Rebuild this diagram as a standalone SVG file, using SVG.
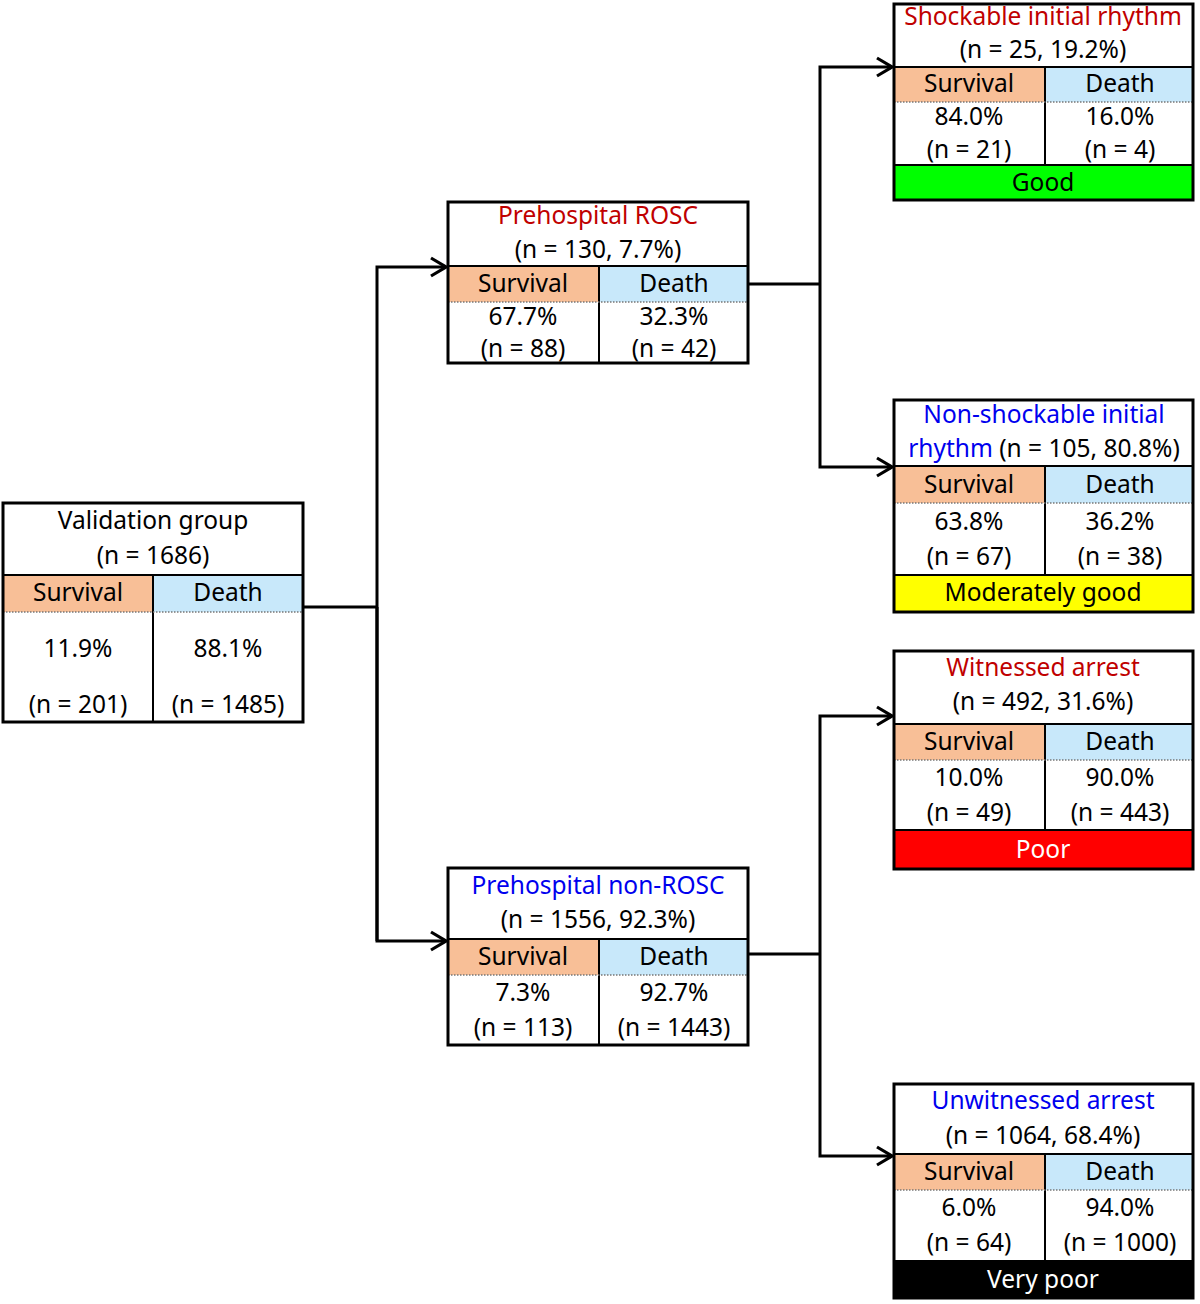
<svg xmlns="http://www.w3.org/2000/svg" width="1200" height="1304" viewBox="0 0 1200 1304">
<defs>
<style>
text{font-family:"Noto Sans","Open Sans","DejaVu Sans",sans-serif;font-size:24.5px;fill:#000;text-anchor:middle}
.red{fill:#C00000}
.blue{fill:#0000EE}
.white{fill:#fff}
.sv{fill:#F8BF97}
.dt{fill:#C8E8FA}
.frame{fill:none;stroke:#000;stroke-width:3}
.ln{stroke:#000;stroke-width:2;fill:none}
.dot{stroke:#777;stroke-width:1.5;stroke-dasharray:1.5 1.5;fill:none}
.con{stroke:#000;stroke-width:3;fill:none}
</style>
<marker id="arr" markerUnits="userSpaceOnUse" markerWidth="22" markerHeight="22" viewBox="0 0 22 22" refX="20" refY="11" orient="auto">
<path d="M5,2 L20,11 L5,20" fill="none" stroke="#000" stroke-width="3.2"/>
</marker>
</defs>
<rect width="1200" height="1304" fill="#fff"/>

<g id="connectors">
<path class="con" d="M303,607 H377"/>
<path class="con" d="M377,941 V267 H446" marker-end="url(#arr)"/>
<path class="con" d="M377,607 V941 H446" marker-end="url(#arr)"/>
<path class="con" d="M748,284 H820"/>
<path class="con" d="M820,284 V67 H892" marker-end="url(#arr)"/>
<path class="con" d="M820,284 V467 H892" marker-end="url(#arr)"/>
<path class="con" d="M748,954 H820"/>
<path class="con" d="M820,954 V716 H892" marker-end="url(#arr)"/>
<path class="con" d="M820,954 V1156 H892" marker-end="url(#arr)"/>
</g>

<g id="validation">
<rect x="3" y="503" width="300" height="219" fill="#fff"/>
<rect class="sv" x="3" y="575" width="150" height="37"/>
<rect class="dt" x="153" y="575" width="150" height="37"/>
<path class="ln" d="M3,575 H303 M153,575 V722"/>
<path class="dot" d="M3,612 H303"/>
<rect class="frame" x="3" y="503" width="300" height="219"/>
<text x="153" y="529">Validation group</text>
<text x="153" y="564">(n = 1686)</text>
<text x="78" y="601">Survival</text>
<text x="228" y="601">Death</text>
<text x="78" y="657">11.9%</text>
<text x="228" y="657">88.1%</text>
<text x="78" y="713">(n = 201)</text>
<text x="228" y="713">(n = 1485)</text>
</g>

<g id="rosc">
<rect x="448" y="202" width="300" height="161" fill="#fff"/>
<rect class="sv" x="448" y="266" width="151" height="36"/>
<rect class="dt" x="599" y="266" width="149" height="36"/>
<path class="ln" d="M448,266 H748 M599,266 V363"/>
<path class="dot" d="M448,302 H748"/>
<rect class="frame" x="448" y="202" width="300" height="161"/>
<text class="red" x="598" y="224">Prehospital ROSC</text>
<text x="598" y="258">(n = 130, 7.7%)</text>
<text x="523" y="292">Survival</text>
<text x="674" y="292">Death</text>
<text x="523" y="325">67.7%</text>
<text x="674" y="325">32.3%</text>
<text x="523" y="357">(n = 88)</text>
<text x="674" y="357">(n = 42)</text>
</g>

<g id="nonrosc">
<rect x="448" y="868" width="300" height="177" fill="#fff"/>
<rect class="sv" x="448" y="939" width="151" height="36"/>
<rect class="dt" x="599" y="939" width="149" height="36"/>
<path class="ln" d="M448,939 H748 M599,939 V1045"/>
<path class="dot" d="M448,975 H748"/>
<rect class="frame" x="448" y="868" width="300" height="177"/>
<text class="blue" x="598" y="894">Prehospital non-ROSC</text>
<text x="598" y="928">(n = 1556, 92.3%)</text>
<text x="523" y="965">Survival</text>
<text x="674" y="965">Death</text>
<text x="523" y="1001">7.3%</text>
<text x="674" y="1001">92.7%</text>
<text x="523" y="1036">(n = 113)</text>
<text x="674" y="1036">(n = 1443)</text>
</g>

<g id="shockable">
<rect x="894" y="4" width="299" height="196" fill="#fff"/>
<rect class="sv" x="894" y="67" width="151" height="35"/>
<rect class="dt" x="1045" y="67" width="148" height="35"/>
<rect x="894" y="165" width="299" height="35" fill="#00FF00"/>
<path class="ln" d="M894,67 H1193 M1045,67 V165 M894,165 H1193"/>
<path class="dot" d="M894,102 H1193"/>
<rect class="frame" x="894" y="4" width="299" height="196"/>
<text class="red" x="1043" y="25">Shockable initial rhythm</text>
<text x="1043" y="58">(n = 25, 19.2%)</text>
<text x="969" y="92">Survival</text>
<text x="1120" y="92">Death</text>
<text x="969" y="125">84.0%</text>
<text x="1120" y="125">16.0%</text>
<text x="969" y="158">(n = 21)</text>
<text x="1120" y="158">(n = 4)</text>
<text x="1043" y="191">Good</text>
</g>

<g id="nonshockable">
<rect x="894" y="400" width="299" height="212" fill="#fff"/>
<rect class="sv" x="894" y="466" width="151" height="37"/>
<rect class="dt" x="1045" y="466" width="148" height="37"/>
<rect x="894" y="575" width="299" height="37" fill="#FFFF00"/>
<path class="ln" d="M894,466 H1193 M1045,466 V575 M894,575 H1193"/>
<path class="dot" d="M894,503 H1193"/>
<rect class="frame" x="894" y="400" width="299" height="212"/>
<text class="blue" x="1044" y="423">Non-shockable initial</text>
<text x="1044" y="457"><tspan class="blue">rhythm</tspan> (n = 105, 80.8%)</text>
<text x="969" y="493">Survival</text>
<text x="1120" y="493">Death</text>
<text x="969" y="530">63.8%</text>
<text x="1120" y="530">36.2%</text>
<text x="969" y="565">(n = 67)</text>
<text x="1120" y="565">(n = 38)</text>
<text x="1043" y="601">Moderately good</text>
</g>

<g id="witnessed">
<rect x="894" y="651" width="299" height="218" fill="#fff"/>
<rect class="sv" x="894" y="724" width="151" height="36"/>
<rect class="dt" x="1045" y="724" width="148" height="36"/>
<rect x="894" y="830" width="299" height="39" fill="#FF0000"/>
<path class="ln" d="M894,724 H1193 M1045,724 V830 M894,830 H1193"/>
<path class="dot" d="M894,760 H1193"/>
<rect class="frame" x="894" y="651" width="299" height="218"/>
<text class="red" x="1043" y="676">Witnessed arrest</text>
<text x="1043" y="710">(n = 492, 31.6%)</text>
<text x="969" y="750">Survival</text>
<text x="1120" y="750">Death</text>
<text x="969" y="786">10.0%</text>
<text x="1120" y="786">90.0%</text>
<text x="969" y="821">(n = 49)</text>
<text x="1120" y="821">(n = 443)</text>
<text class="white" x="1043" y="858">Poor</text>
</g>

<g id="unwitnessed">
<rect x="894" y="1084" width="299" height="214" fill="#fff"/>
<rect class="sv" x="894" y="1154" width="151" height="36"/>
<rect class="dt" x="1045" y="1154" width="148" height="36"/>
<rect x="894" y="1260" width="299" height="38" fill="#000"/>
<path class="ln" d="M894,1154 H1193 M1045,1154 V1260"/>
<path class="dot" d="M894,1190 H1193"/>
<rect class="frame" x="894" y="1084" width="299" height="214"/>
<text class="blue" x="1043" y="1109">Unwitnessed arrest</text>
<text x="1043" y="1144">(n = 1064, 68.4%)</text>
<text x="969" y="1180">Survival</text>
<text x="1120" y="1180">Death</text>
<text x="969" y="1216">6.0%</text>
<text x="1120" y="1216">94.0%</text>
<text x="969" y="1251">(n = 64)</text>
<text x="1120" y="1251">(n = 1000)</text>
<text class="white" x="1043" y="1288">Very poor</text>
</g>
</svg>
